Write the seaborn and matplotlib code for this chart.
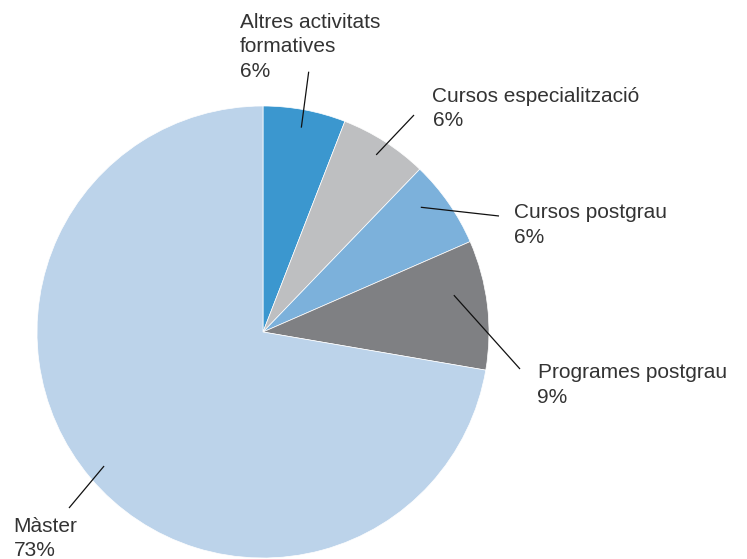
import numpy as np
import matplotlib
matplotlib.use("Agg")
import matplotlib.pyplot as plt
import seaborn as sns

# ---- data ----
categories = ["Altres activitats\nformatives", "Cursos especialització",
              "Cursos postgrau", "Programes postgrau", "Màster"]
shares = [5.9, 6.3, 6.25, 9.25, 72.3]
pct_labels = ["6%", "6%", "6%", "9%", "73%"]
colors = ["#3b97cf", "#bebfc1", "#7cb1db", "#7f8083", "#bcd3ea"]

sns.set_theme(style="white")
plt.rcParams["font.family"] = ["Liberation Sans", "DejaVu Sans"]

W, H = 747, 559
fig = plt.figure(figsize=(W / 100, H / 100), dpi=100)
ax = fig.add_axes([0, 0, 1, 1])

cx, cy, R = 263, H - 332, 226
wedges, _ = ax.pie(shares, colors=colors, startangle=90, counterclock=False,
                   center=(cx, cy), radius=R,
                   wedgeprops=dict(edgecolor="white", linewidth=0.5))

ax.set_xlim(0, W)
ax.set_ylim(0, H)
ax.set_aspect("auto")
ax.axis("off")

# ---- label layout (pixel positions, top-left origin; first-line baseline) ----
text_pos = [(240, 27.7), (432.5, 101.7), (514, 218.3), (537.5, 378), (13.5, 531.7)]
line_end = [(308.7, 71.7), (414, 115), (499, 216), (520, 369), (69, 508)]
angle_nudge = [0, 0, 3.5, 4, 0]
inner_frac = [0.92, 0.93, 0.89, 0.86, 0.92]
STEP = 24.8

for w, cat, pct, tp, le, nud, fr in zip(wedges, categories, pct_labels,
                                         text_pos, line_end, angle_nudge, inner_frac):
    mid = np.deg2rad((w.theta1 + w.theta2) / 2 + nud)
    x0 = cx + fr * R * np.cos(mid)
    y0 = cy + fr * R * np.sin(mid)
    ax.plot([x0, le[0]], [y0, H - le[1]], color="#111111", lw=0.9,
            solid_capstyle="butt")
    lines = cat.split("\n") + [pct]
    for i, line in enumerate(lines):
        ax.text(tp[0], H - (tp[1] + i * STEP), line, ha="left", va="baseline",
                fontsize=15, color="#333333")

fig.savefig("out.png", dpi=100)
